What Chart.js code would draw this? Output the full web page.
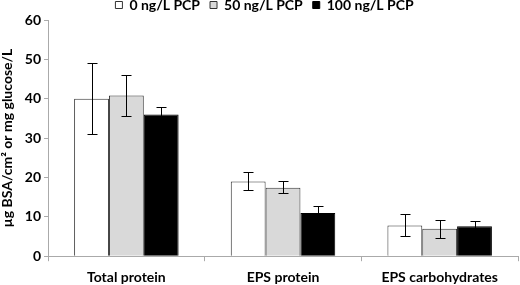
<!DOCTYPE html>
<html>
<head>
<meta charset="utf-8">
<script src="https://cdn.jsdelivr.net/npm/chart.js@4"></script>
<style>
  html, body { margin: 0; padding: 0; background: #fff; }
  #wrap { width: 520px; height: 285px; }
</style>
</head>
<body>
<div id="wrap"><canvas id="grafico"></canvas></div>
<script>
// Dados
const categorias = ['Total protein', 'EPS protein', 'EPS carbohydrates'];
const series = ['0 ng/L PCP', '50 ng/L PCP', '100 ng/L PCP'];
const valores0 = [40, 19, 7.8];
const valores50 = [40.8, 17.4, 7.0];
const valores100 = [36, 11, 7.6];
// limites das barras de erro
const erroAlto0 = [49, 21.4, 10.6];
const erroBaixo0 = [31, 16.7, 5.1];
const erroAlto50 = [46, 19, 9.1];
const erroBaixo50 = [35.6, 16.1, 4.6];
const erroAlto100 = [38, 12.8, 8.9];
const erroBaixo100 = [34, 9.2, 6.3];
const ticksY = [0, 10, 20, 30, 40, 50, 60];

const fonte = 'Lato';
const erros = [
    { alto: erroAlto0, baixo: erroBaixo0 },
    { alto: erroAlto50, baixo: erroBaixo50 },
    { alto: erroAlto100, baixo: erroBaixo100 }
];

// Plugin simples para desenhar as barras de erro
const barrasErro = {
    id: 'barrasErro',
    afterDatasetsDraw(chart) {
        const ctx = chart.ctx;
        const y = chart.scales.y;
        ctx.save();
        ctx.strokeStyle = '#000';
        ctx.lineWidth = 1;
        chart.data.datasets.forEach((ds, i) => {
            const meta = chart.getDatasetMeta(i);
            meta.data.forEach((barra, j) => {
                const x = Math.round(barra.x) + 0.5;
                const yA = Math.round(y.getPixelForValue(erros[i].alto[j])) + 0.5;
                const yB = Math.round(y.getPixelForValue(erros[i].baixo[j])) + 0.5;
                ctx.beginPath();
                ctx.moveTo(x, yA); ctx.lineTo(x, yB);
                ctx.moveTo(x - 5, yA); ctx.lineTo(x + 5, yA);
                ctx.moveTo(x - 5, yB); ctx.lineTo(x + 5, yB);
                ctx.stroke();
            });
        });
        ctx.restore();
    }
};

// Sobe a legenda para ficar colada no topo, como na figura
// (a caixa é alargada para baixo para o texto não ser cortado)
const subirLegenda = {
    id: 'subirLegenda',
    afterLayout(chart) {
        const leg = chart.legend;
        if (!leg) return;
        leg.top = -12;
        leg.bottom = 30;
        leg.height = 42;
        leg.left += 6;
        leg.right += 6;
    }
};

new Chart(document.getElementById('grafico'), {
    type: 'bar',
    data: {
        labels: categorias,
        datasets: [
            { label: series[0], data: valores0, backgroundColor: '#ffffff', borderColor: '#333', borderWidth: 1 },
            { label: series[1], data: valores50, backgroundColor: '#d9d9d9', borderColor: '#333', borderWidth: 1 },
            { label: series[2], data: valores100, backgroundColor: '#000000', borderColor: '#000', borderWidth: 1 }
        ]
    },
    options: {
        responsive: true,
        maintainAspectRatio: false,
        animation: false,
        layout: { padding: { left: -1, right: 2, top: 0, bottom: -9 } },
        datasets: { bar: { categoryPercentage: 0.667, barPercentage: 1 } },
        plugins: {
            legend: {
                position: 'top',
                align: 'center',
                maxHeight: 20,
                labels: {
                    boxWidth: 7,
                    boxHeight: 7,
                    padding: 10,
                    color: '#000',
                    font: { family: fonte, size: 14, weight: 'bold' }
                }
            },
            tooltip: { enabled: false }
        },
        scales: {
            x: {
                grid: { display: true, drawOnChartArea: false, offset: true, color: '#aaa', tickLength: 5 },
                border: { color: '#aaa' },
                ticks: { color: '#000', padding: 8, font: { family: fonte, size: 14, weight: 'bold' } }
            },
            y: {
                min: 0,
                max: 60,
                afterBuildTicks: (eixo) => { eixo.ticks = ticksY.map(v => ({ value: v })); },
                grid: { display: true, drawOnChartArea: false, color: '#aaa', tickLength: 4 },
                border: { color: '#aaa' },
                ticks: { color: '#000', padding: 3, font: { family: fonte, size: 14, weight: 'bold' } },
                title: {
                    display: true,
                    text: 'µg BSA/cm² or mg glucose/L',
                    color: '#000',
                    padding: { top: 0, bottom: 6 },
                    font: { family: fonte, size: 14, weight: 'bold' }
                }
            }
        }
    },
    plugins: [barrasErro, subirLegenda]
});
</script>
</body>
</html>
